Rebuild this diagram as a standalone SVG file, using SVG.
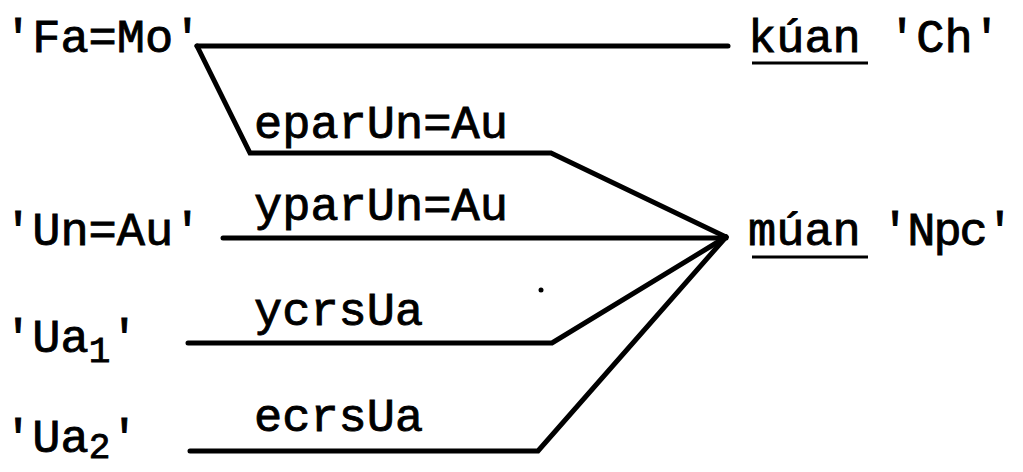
<svg xmlns="http://www.w3.org/2000/svg" width="1023" height="472" viewBox="0 0 1023 472">
  <style>
    text { font-family: "Liberation Mono", "DejaVu Sans Mono", monospace; font-size: 47px; fill: #000; stroke: #000; stroke-width: 0.9px; }
    .sub { font-size: 36px; }
    .link { fill: none; stroke: #000; stroke-width: 5; stroke-linejoin: miter; stroke-linecap: round; }
    .ul { stroke: #000; stroke-width: 3; }
  </style>
  <rect width="1023" height="472" fill="#fff"/>

  <!-- connectors -->
  <g id="connectors">
    <path class="link" d="M197,46 H728"/>
    <path class="link" d="M197,46 L250,153 H551 L726,237"/>
    <path class="link" d="M223,238 H726"/>
    <path class="link" d="M188,343 H552 L726,237"/>
    <path class="link" d="M190,451 H538 L726,237"/>
    <circle cx="541" cy="290" r="2.5" fill="#000"/>
  </g>

  <!-- edge labels -->
  <g id="label-eparUn">
    <text x="254" y="138">eparUn=Au</text>
  </g>
  <g id="label-yparUn">
    <text x="254" y="220">yparUn=Au</text>
  </g>
  <g id="label-ycrsUa">
    <text x="254" y="325">ycrsUa</text>
  </g>
  <g id="label-ecrsUa">
    <text x="254" y="431">ecrsUa</text>
  </g>

  <!-- source nodes -->
  <g id="node-FaMo">
    <text x="4" y="52">'Fa=Mo'</text>
  </g>
  <g id="node-UnAu">
    <text x="4" y="245">'Un=Au'</text>
  </g>
  <g id="node-Ua1">
    <text x="4" y="352">'Ua<tspan class="sub" dy="10">1</tspan><tspan dy="-10">'</tspan></text>
  </g>
  <g id="node-Ua2">
    <text x="4" y="452">'Ua<tspan class="sub" dy="6">2</tspan><tspan dy="-6">'</tspan></text>
  </g>

  <!-- target nodes -->
  <g id="node-kuan">
    <text x="748" y="52">kúan</text>
    <line class="ul" x1="752" y1="63" x2="868" y2="63"/>
    <text x="888" y="52">'Ch'</text>
  </g>
  <g id="node-muan">
    <text x="748" y="245">múan</text>
    <line class="ul" x1="752" y1="257" x2="868" y2="257"/>
    <text x="881" y="245" letter-spacing="-2">'Npc'</text>
  </g>
</svg>
